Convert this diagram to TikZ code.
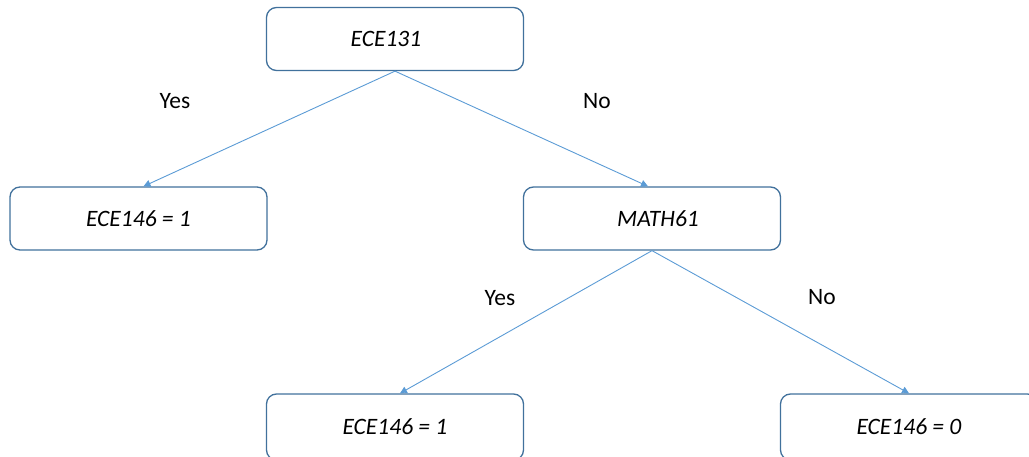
\documentclass[tikz,border=0pt]{standalone}
\usepackage{fontspec}
\setmainfont{Carlito}
\usetikzlibrary{arrows.meta}
\definecolor{boxline}{HTML}{41719C}
\definecolor{arrline}{HTML}{5B9BD5}
\begin{document}
\begin{tikzpicture}[x=1pt,y=-1pt,
  tbox/.style={draw=boxline,line width=1.3pt,rounded corners=10pt,fill=white,
    minimum width=257pt,minimum height=63pt,inner sep=0pt,
    font=\fontsize{23.5}{27}\selectfont\itshape},
  conn/.style={draw=arrline,line width=0.9pt,-{Triangle[length=7pt,width=7pt]}},
  lbl/.style={font=\fontsize{23.5}{27}\selectfont}]
\useasboundingbox (0,0) rectangle (1029,457);
\clip (0,0) rectangle (1029,457);
\node[tbox] (root) at (395,39) {ECE131\hspace*{18pt}};
\node[tbox] (l) at (138.5,218.5) {ECE146 = 1};
\node[tbox] (m) at (652,218.5) {\hspace*{12pt}MATH61};
\node[tbox,minimum height=66pt] (ml) at (395,427) {ECE146 = 1};
\node[tbox,minimum height=66pt] (mr) at (909,427) {ECE146 = 0};
\draw[conn] (root.south) -- ([xshift=5pt]l.north);
\draw[conn] (root.south) -- ([xshift=-4pt]m.north);
\draw[conn] (m.south) -- ([xshift=5pt]ml.north);
\draw[conn] (m.south) -- (mr.north);
\node[lbl] (y1) at (175,101) {Yes};
\node[lbl] (n1) at (597,101) {No};
\node[lbl] (y2) at (500,298) {Yes};
\node[lbl] (n2) at (822,297) {No};
\end{tikzpicture}
\end{document}
